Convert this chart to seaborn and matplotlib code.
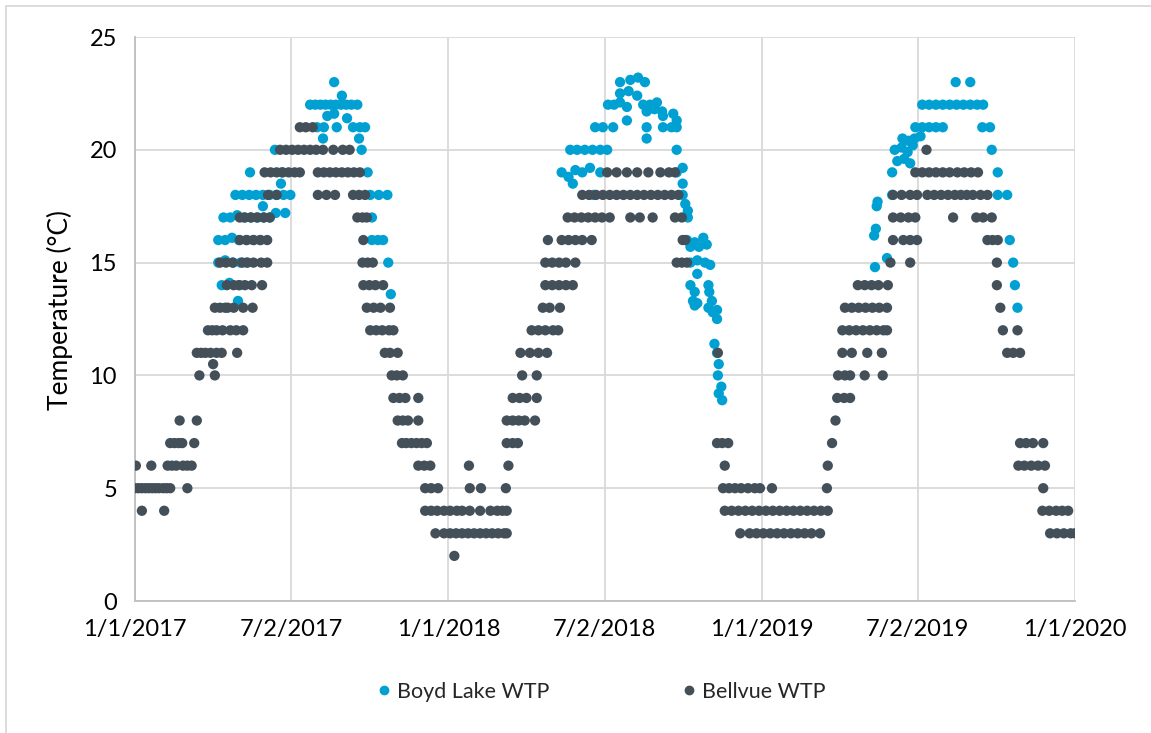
import matplotlib.pyplot as plt
import matplotlib.patches as mpatches
from matplotlib.lines import Line2D
import seaborn as sns
import pandas as pd

# (days since 1/1/2017, temperature °C)
boyd_2017 = [
    (97, 15), (105, 15.1), (114, 15), (123, 15), (130, 15),
    (101, 14), (110, 14.1), (122, 14), (120, 13.3),
    (97, 16), (105, 16), (113, 16.1), (121, 16), (130, 16), (138, 16), (146, 16),
    (103, 17), (111, 17), (119, 17.1), (127, 17), (135, 17), (143, 17), (150, 17), (157, 17),
    (164, 17.2), (175, 17.2), (149, 17.5),
    (117, 18), (125, 18), (133, 18), (141, 18), (149, 18), (157, 18), (165, 18), (173, 18), (181, 18),
    (170, 18.5), (134, 19), (171, 19), (163, 20), (219, 20.5),
    (212, 21), (220, 21), (235, 21), (224, 21.5), (232, 21.6), (247, 21.4),
    (204, 22), (210, 22), (216, 22), (222, 22), (228, 22), (234, 22), (240, 22), (246, 22),
    (252, 22), (259, 22), (241, 22.4), (232, 23),
    (254, 21), (262, 21), (268, 21), (261, 20.5), (264, 20), (271, 19),
    (274, 18), (284, 18), (294, 18), (276, 17), (276, 16), (283, 16), (289, 16),
    (295, 15), (298, 13.6),
]
boyd_2018 = [
    (497, 19), (505, 18.8), (513, 19.1), (521, 19), (530, 19.2), (542, 19),
    (510, 18.5), (534, 18),
    (507, 20), (515, 20), (524, 20), (533, 20), (542, 20), (550, 20),
    (536, 21), (545, 21), (557, 21),
    (551, 22), (558, 22), (565, 22.1), (573, 21.9), (592, 22), (600, 22), (608, 22.1),
    (565, 22.5), (575, 22.6), (585, 22.4),
    (565, 23), (577, 23.1), (586, 23.2), (594, 23),
    (596, 21.7), (605, 21.8), (614, 21.7), (627, 21.6),
    (573, 21.3), (615, 21.5), (631, 21.3), (596, 20.5), (596, 21),
    (615, 21), (625, 21), (631, 21),
    (631, 20), (631, 19), (638, 19.2), (638, 18.5), (638, 18), (641, 17.6), (644, 17.3), (644, 17),
    (643, 16), (652, 15.9), (662, 16.1), (647, 15.7), (657, 15.7), (666, 15.8),
    (647, 15), (655, 15.1), (664, 15), (670, 14.9),
    (655, 14.5), (647, 14), (668, 14), (652, 13.7), (669, 13.7),
    (650, 13.3), (655, 13.2), (672, 13.3), (652, 13.1), (668, 13), (678, 12.9),
    (673, 12.8), (678, 12.5), (675, 11.4), (678, 11), (680, 10.5), (679, 10),
    (683, 9.5), (680, 9.2), (684, 8.9),
]
boyd_2019 = [
    (862, 14.8), (876, 15.2), (861, 16.2), (863, 16.5), (864, 17.5), (865, 17.7),
    (882, 18), (882, 19), (888, 19.5), (896, 19.6), (903, 19.4),
    (885, 20), (893, 20.1), (900, 19.9), (906, 20.2),
    (894, 20.5), (901, 20.4), (908, 20.5), (915, 20.6),
    (909, 21), (917, 21), (925, 21), (933, 21), (941, 21),
    (917, 22), (925, 22), (933, 22), (941, 22), (949, 22), (957, 22), (965, 22), (973, 22),
    (981, 22), (988, 22), (956, 23), (973, 23),
    (987, 21), (996, 21), (998, 20), (1005, 19), (1005, 18), (1016, 18),
    (1019, 16), (1023, 15), (1025, 14), (1028, 13),
]

bellvue_2017 = [
    (0, 5), (4, 5), (8, 5), (12, 5), (16, 5), (20, 5), (24, 5), (28, 5), (33, 5), (37, 5), (41, 5), (61, 5),
    (8, 4), (34, 4),
    (1, 6), (19, 6), (38, 6), (43, 6), (48, 6), (56, 6), (61, 6), (66, 6),
    (41, 7), (46, 7), (51, 7), (55, 7), (69, 7),
    (52, 8), (72, 8), (75, 10), (93, 10), (91, 10.5),
    (72, 11), (77, 11), (82, 11), (88, 11), (95, 11), (101, 11), (119, 11),
    (85, 12), (90, 12), (95, 12), (102, 12), (111, 12), (118, 12), (126, 12),
    (93, 13), (99, 13), (105, 13), (108, 13), (115, 13), (126, 13), (137, 13),
    (107, 14), (115, 14), (121, 14), (128, 14), (136, 14), (148, 14),
    (99, 15), (106, 15), (114, 15), (125, 15), (131, 15), (138, 15), (147, 15), (154, 15),
    (122, 16), (130, 16), (138, 16), (146, 16), (154, 16),
    (122, 17), (128, 17), (135, 17), (142, 17), (150, 17), (157, 17),
    (155, 18), (165, 18),
    (151, 19), (158, 19), (165, 19), (172, 19), (179, 19), (186, 19), (192, 19),
    (169, 20), (176, 20), (183, 20), (190, 20), (197, 20), (204, 20), (211, 20), (219, 20),
    (231, 20), (242, 20), (250, 20),
    (192, 21), (199, 21), (207, 21),
    (213, 19), (220, 19), (227, 19), (234, 19), (241, 19), (248, 19), (255, 19), (262, 19),
    (213, 18), (223, 18), (233, 18), (254, 18), (261, 18), (268, 18),
    (259, 17), (265, 17), (270, 17), (266, 16), (265, 15), (271, 15), (277, 15),
    (266, 14), (273, 14), (280, 14), (289, 14),
    (270, 13), (278, 13), (286, 13), (297, 13),
    (274, 12), (281, 12), (288, 12), (296, 12), (301, 12),
    (291, 11), (297, 11), (306, 11), (299, 10), (305, 10), (312, 10),
    (301, 9), (308, 9), (315, 9), (330, 9),
    (306, 8), (312, 8), (318, 8), (330, 8),
    (311, 7), (316, 7), (322, 7), (328, 7), (334, 7), (340, 7),
    (330, 6), (337, 6), (344, 6), (338, 5), (345, 5), (353, 5),
    (338, 4), (345, 4), (352, 4), (360, 4), (350, 3), (360, 3),
]
bellvue_2018 = [
    (367, 4), (375, 4), (381, 4), (390, 4), (402, 4), (414, 4), (422, 4), (428, 4), (433, 4),
    (367, 3), (374, 3), (381, 3), (388, 3), (395, 3), (402, 3), (409, 3), (416, 3), (423, 3),
    (430, 3), (433, 3), (372, 2),
    (390, 5), (403, 5), (432, 5), (389, 6), (435, 6),
    (433, 7), (440, 7), (446, 7),
    (433, 8), (440, 8), (447, 8), (454, 8), (466, 8),
    (440, 9), (448, 9), (456, 9), (468, 9), (451, 10), (468, 10),
    (449, 11), (460, 11), (470, 11), (480, 11),
    (462, 12), (470, 12), (478, 12), (487, 12), (493, 12),
    (475, 13), (483, 13), (495, 13),
    (478, 14), (486, 14), (494, 14), (502, 14), (510, 14),
    (478, 15), (486, 15), (494, 15), (502, 15), (513, 15),
    (481, 16), (497, 16), (505, 16), (513, 16), (521, 16), (532, 16),
    (504, 17), (512, 17), (520, 17), (528, 17), (536, 17), (544, 17), (553, 17),
    (577, 17), (588, 17), (603, 17), (629, 17), (637, 17),
    (521, 18), (529, 18), (537, 18), (545, 18), (553, 18), (561, 18), (569, 18), (577, 18),
    (585, 18), (593, 18), (601, 18), (609, 18), (617, 18), (625, 18), (633, 18),
    (550, 19), (561, 19), (573, 19), (585, 19), (598, 19), (612, 19), (622, 19), (629, 19),
    (638, 16), (641, 16), (631, 15), (637, 15), (643, 15),
    (679, 11), (678, 7), (684, 7), (691, 7), (687, 6),
    (685, 5), (692, 5), (699, 5), (706, 5), (714, 5), (722, 5), (728, 5),
    (687, 4), (695, 4), (703, 4), (711, 4), (719, 4), (727, 4),
    (705, 3), (716, 3), (724, 3),
]
bellvue_2019 = [
    (742, 5), (806, 5),
    (735, 4), (743, 4), (751, 4), (759, 4), (767, 4), (775, 4), (783, 4), (791, 4), (799, 4), (807, 4),
    (732, 3), (740, 3), (748, 3), (756, 3), (764, 3), (772, 3), (780, 3), (788, 3), (798, 3),
    (807, 6), (812, 7), (816, 8), (818, 9), (826, 9), (833, 9),
    (819, 10), (827, 10), (833, 10), (850, 10), (871, 10),
    (824, 11), (835, 11), (853, 11), (870, 11),
    (824, 12), (832, 12), (840, 12), (848, 12), (856, 12), (864, 12), (872, 12), (876, 12),
    (827, 13), (835, 13), (843, 13), (851, 13), (859, 13), (867, 13), (876, 13),
    (842, 14), (850, 14), (858, 14), (866, 14), (877, 14),
    (880, 15), (903, 15), (883, 16), (895, 16), (903, 16), (911, 16),
    (883, 17), (892, 17), (901, 17), (909, 17), (953, 17), (980, 17), (988, 17), (998, 17),
    (883, 18), (893, 18), (903, 18), (911, 18), (923, 18), (931, 18), (939, 18), (947, 18),
    (955, 18), (962, 18), (969, 18), (976, 18), (985, 18), (993, 18),
    (909, 19), (917, 19), (925, 19), (933, 19), (941, 19), (949, 19),
    (958, 19), (966, 19), (974, 19), (982, 19), (922, 20),
    (993, 16), (999, 16), (1005, 16), (1004, 15), (1004, 14), (1008, 13),
    (1011, 12), (1028, 12), (1016, 11), (1023, 11), (1031, 11),
    (1031, 7), (1038, 7), (1046, 7), (1058, 7),
    (1029, 6), (1036, 6), (1044, 6), (1052, 6), (1060, 6), (1058, 5),
    (1057, 4), (1065, 4), (1073, 4), (1080, 4), (1087, 4),
    (1066, 3), (1074, 3), (1082, 3), (1090, 3), (1095, 3),
]

tick_dates = ["2017-01-01", "2017-07-02", "2018-01-01", "2018-07-02",
              "2019-01-01", "2019-07-02", "2020-01-01"]
tick_labels = ["1/1/2017", "7/2/2017", "1/1/2018", "7/2/2018",
               "1/1/2019", "7/2/2019", "1/1/2020"]

boyd_color = "#00A0D2"
bell_color = "#435059"
grid_color = "#D9D9D9"

start = pd.Timestamp("2017-01-01")


def to_frame(points, site):
    df = pd.DataFrame(points, columns=["day", "temp"])
    df["date"] = start + pd.to_timedelta(df["day"], unit="D")
    df["site"] = site
    return df


data = pd.concat([
    to_frame(boyd_2017 + boyd_2018 + boyd_2019, "Boyd Lake WTP"),
    to_frame(bellvue_2017 + bellvue_2018 + bellvue_2019, "Bellvue WTP"),
], ignore_index=True)

sns.set_style("white")
plt.rcParams["font.family"] = ["Lato", "DejaVu Sans"]

fig = plt.figure(figsize=(11.51, 7.33), dpi=100)
ax = fig.add_axes([135 / 1151, 1 - 601 / 733, 940 / 1151, 564 / 733])

sns.scatterplot(data=data, x="date", y="temp", hue="site",
                palette={"Boyd Lake WTP": boyd_color, "Bellvue WTP": bell_color},
                s=55, linewidth=0, alpha=1, legend=False, ax=ax, zorder=3)

ax.set_xlim(start, pd.Timestamp("2020-01-01"))
ax.set_ylim(0, 25)
ax.set_yticks([0, 5, 10, 15, 20, 25])
ax.set_xticks(pd.to_datetime(tick_dates))
ax.set_xticklabels(tick_labels)
ax.grid(True, color=grid_color, lw=1.3, zorder=0)
ax.set_axisbelow(True)

for side in ["top", "right"]:
    ax.spines[side].set_visible(False)
for side in ["left", "bottom"]:
    ax.spines[side].set_color("#BFBFBF")
    ax.spines[side].set_linewidth(1.3)

ax.tick_params(axis="x", direction="out", length=5, color="#BFBFBF", width=1.3,
               labelsize=17, pad=8, labelcolor="black")
ax.tick_params(axis="y", length=0, labelsize=17, pad=13, labelcolor="black")

ax.set_xlabel("")
ax.set_ylabel("Temperature (°C)", fontsize=19, color="black")
ax.yaxis.set_label_coords(-0.066, 0.516)

handles = [
    Line2D([], [], marker="o", ls="", color=boyd_color, markersize=6, label="Boyd Lake WTP"),
    Line2D([], [], marker="o", ls="", color=bell_color, markersize=6, label="Bellvue WTP"),
]
fig.legend(handles=handles, loc="center", bbox_to_anchor=(0.521, 1 - 692 / 733),
           ncol=2, frameon=False, fontsize=15.5, handletextpad=0.1,
           columnspacing=6.0, handlelength=1.0)

# light chart-area border (top/left edges visible in the reference)
fig.patches.append(mpatches.Rectangle((6 / 1151, -0.5), 1.2, 1.5 - 6 / 733,
                                      transform=fig.transFigure, fill=False,
                                      edgecolor=grid_color, lw=1.3))

fig.savefig("out.png", dpi=100)
